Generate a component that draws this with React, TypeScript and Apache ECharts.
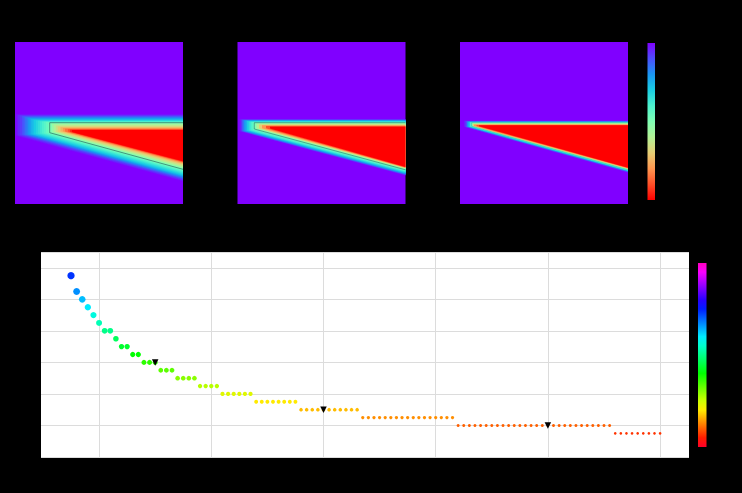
import React, { useEffect, useRef } from "react";
import * as echarts from "echarts";

// Scatter: one point per x, y in whole steps
const pointX = [15,16,17,18,19,20,21,22,23,24,25,26,27,28,29,30,31,32,33,34,35,36,37,38,39,40,41,42,43,44,45,46,47,48,49,50,51,52,53,54,55,56,57,58,59,60,61,62,63,64,65,66,67,68,69,70,71,72,73,74,75,76,77,78,79,80,81,82,83,84,85,86,87,88,89,90,91,92,93,94,95,96,97,98,99,100,101,102,103,104,105,106,107,108,109,110,111,112,113,114,115,116,117,118,119,120];
const pointY = [23,21,20,19,18,17,16,16,15,14,14,13,13,12,12,12,11,11,11,10,10,10,10,9,9,9,9,8,8,8,8,8,8,7,7,7,7,7,7,7,7,6,6,6,6,6,6,6,6,6,6,6,5,5,5,5,5,5,5,5,5,5,5,5,5,5,5,5,5,4,4,4,4,4,4,4,4,4,4,4,4,4,4,4,4,4,4,4,4,4,4,4,4,4,4,4,4,3,3,3,3,3,3,3,3,3];
const markedPoints = [[30, 12], [60, 6], [100, 4]];
const rowMarkerSize: Record<number, number> = {23:7.3,21:6.9,20:6.6,19:6.4,18:6.2,17:6,16:5.8,15:5.6,14:5.4,13:5.2,12:5,11:4.8,10:4.6,9:4.4,8:4.2,7:3.9,6:3.6,5:3.3,4:3,3:2.7};
const xTicks = [20, 40, 60, 80, 100, 120];

// Fields: iso-level contours of the three wedge panels (level, left x, top y, lower-left y, lower-right y)
const field1Levels = [0.01,0.03,0.05,0.075,0.1,0.125,0.15,0.175,0.2,0.225,0.25,0.275,0.3,0.325,0.35,0.375,0.4,0.425,0.45,0.475,0.5,0.55,0.6,0.65,0.7,0.75,0.8,0.85,0.9,0.95,1];
const field1Left = [0.5,1.5,3,5,7,8.5,10,11.5,13,14.5,16,17.5,19,21,23,25,27,29,31,33,34.7,37,39,41,43,45.5,48,50,53,55,57];
const field1Top = [72,72.5,73,73.5,74,74.5,75,75.5,76,76.5,77,77.5,78,78.4,78.8,79.15,79.5,79.8,80.1,80.4,80.7,81.6,82.5,83.5,84.5,85.2,86,86.7,87.3,87.7,88];
const field1LowLeft = [93.7,93.5,93.2,93,92.8,92.7,92.6,92.5,92.4,92.3,92.2,92.15,92.1,91.9,91.7,91.5,91.3,91.15,91,90.85,90.7,90.3,90,89.7,89.5,89.3,89.2,89.4,89.6,89.8,90];
const field1LowRight = [139.5,139,138.5,137.8,137,136.5,136,135.5,135,134.5,134,133.5,133,132.3,131.5,130.7,130,129.3,128.6,127.9,127.3,126.1,125,123.9,122.8,121.9,121,120.4,120,119.6,119.2];

const field2Levels = [0.03,0.1,0.15,0.2,0.25,0.3,0.35,0.4,0.45,0.5,0.6,0.7,0.8,0.9,1];
const field2Left = [2,4,5.2,6.5,8,9.5,11.2,13,15,16.8,19,21.5,24.5,28.5,32.5];
const field2Top = [77,77.5,77.9,78.3,78.6,79,79.4,79.8,80.2,80.7,81.6,82.5,83.2,84,84.7];
const field2LowLeft = [89.2,89.3,89.1,89,88.9,88.7,88.5,88.3,87.6,87,86.6,86.4,86.3,86.3,86.5];
const field2LowRight = [133.5,133,132.5,132,131.5,131,130.3,129.6,128.7,127.8,126.9,126.3,125.8,125.4,125];

const field3Levels = [0.03,0.1,0.2,0.3,0.4,0.5,0.6,0.7,0.8,0.9,1];
const field3Left = [4,5.5,7,8.5,10,11.7,12.5,13,14,16.5,19];
const field3Top = [78.6,79,79.4,79.8,80.2,80.7,81.3,81.9,82.4,82.9,83.3];
const field3LowLeft = [84.8,85,84.8,84.7,84.5,84.2,84.1,84,84,84,84.2];
const field3LowRight = [130.5,130.2,129.6,129,128.4,127.7,127.2,126.8,126.4,126.1,125.8];

const rainbowColors = ["#8000ff","#4c4ffc","#1a96f2","#1acee3","#4df2ce","#80ffb4","#b3f296","#e6ce74","#ff964f","#ff4f28","#ff0000"];
const gistRainbowColors = ["#ff0028","#ff1c00","#ff6000","#ffa500","#ffea00","#cfff00","#8aff00","#45ff00","#00ff00","#00ff45","#00ff89","#00ffcd","#00ecff","#00a6ff","#0061ff","#001cff","#2a00ff","#6f00ff","#b400ff","#f900ff","#ff00bf"];

const FIELD_W = 168;
const FIELD_H = 162;

const rows = (lv: number[], l: number[], t: number[], a: number[], b: number[]) =>
  lv.map((v, i) => [v, l[i], t[i], a[i], b[i]]);

const fields = [
  { left: 15, data: rows(field1Levels, field1Left, field1Top, field1LowLeft, field1LowRight), outline: 20, stroke: "rgba(30,80,85,0.75)" },
  { left: 237.5, data: rows(field2Levels, field2Left, field2Top, field2LowLeft, field2LowRight), outline: 9, stroke: "rgba(30,80,85,0.6)" },
  { left: 460, data: rows(field3Levels, field3Left, field3Top, field3LowLeft, field3LowRight), outline: 5, stroke: "rgba(30,80,85,0.25)" },
];

const contourPoints = (api: any) => {
  const xl = api.value(1), t = api.value(2), a = api.value(3), b = api.value(4);
  return [api.coord([xl, t]), api.coord([FIELD_W, t]), api.coord([FIELD_W, b]), api.coord([xl, a])];
};

const renderContour = (_: any, api: any) => ({
  type: "polygon",
  shape: { points: contourPoints(api) },
  style: { fill: api.visual("color") },
});

const renderOutline = (stroke: string) => (_: any, api: any) => ({
  type: "polyline",
  shape: { points: [api.coord([FIELD_W, api.value(2)]), api.coord([api.value(1), api.value(2)]), api.coord([api.value(1), api.value(3)]), api.coord([FIELD_W, api.value(4)])] },
  style: { fill: "none", stroke, lineWidth: 0.8 },
});

const barFill = (colors: string[]) =>
  new echarts.graphic.LinearGradient(0, 0, 0, 1, colors.map((color, i) => ({ offset: i / (colors.length - 1), color })));

export default function App() {
  const ref = useRef<HTMLDivElement>(null);
  useEffect(() => {
    document.documentElement.style.background = "#000";
    document.body.style.margin = "0";
    document.body.style.background = "#000";
    const chart = echarts.init(ref.current!, undefined, { renderer: "svg" });
    const hiddenAxis = { show: false };
    const option: any = {
      animation: false,
      backgroundColor: "#000",
      grid: [
        { left: 41, top: 252, width: 648, height: 205, show: true, backgroundColor: "#fff", borderColor: "#000", borderWidth: 0 },
        ...fields.map((f) => ({ left: f.left, top: 42, width: FIELD_W, height: FIELD_H, show: true, backgroundColor: "#8000ff", borderWidth: 0 })),
      ],
      xAxis: [
        {
          type: "value", gridIndex: 0, min: 9.65, max: 125.15,
          axisLine: { show: false },
          axisTick: { show: false, customValues: xTicks },
          axisLabel: { show: false, customValues: xTicks },
          splitLine: { show: true, lineStyle: { color: "#dcdcdc", width: 1 } },
        },
        ...fields.map((_, i) => ({ type: "value", gridIndex: i + 1, min: 0, max: FIELD_W, ...hiddenAxis })),
      ],
      yAxis: [
        {
          type: "value", gridIndex: 0, min: 0, max: 26, interval: 4,
          axisLine: { show: false }, axisTick: { show: false }, axisLabel: { show: false },
          splitLine: { show: true, lineStyle: { color: "#dcdcdc", width: 1 } },
        },
        ...fields.map((_, i) => ({ type: "value", gridIndex: i + 1, min: 0, max: FIELD_H, inverse: true, ...hiddenAxis })),
      ],
      visualMap: [
        { type: "continuous", show: false, seriesIndex: 0, dimension: 1, min: 1, max: 31, inRange: { color: gistRainbowColors } },
        { type: "continuous", show: false, seriesIndex: [2, 3, 4], dimension: 0, min: 0, max: 1, inRange: { color: rainbowColors } },
      ],
      graphic: [
        { type: "rect", left: 647.5, top: 43, shape: { width: 7.5, height: 157 }, style: { fill: barFill(rainbowColors) } },
        { type: "rect", left: 698, top: 263, shape: { width: 8.5, height: 184 }, style: { fill: barFill([...gistRainbowColors].reverse()) } },
      ],
      series: [
        {
          type: "scatter", xAxisIndex: 0, yAxisIndex: 0,
          data: pointX.map((x, i) => [x, pointY[i]]),
          symbolSize: (d: number[]) => rowMarkerSize[d[1]],
          itemStyle: { opacity: 1 },
          z: 3,
        },
        {
          type: "scatter", xAxisIndex: 0, yAxisIndex: 0, data: markedPoints,
          symbol: "triangle", symbolRotate: 180, symbolSize: 6.5,
          itemStyle: { color: "#000", opacity: 1 }, z: 4,
        },
        ...fields.map((f, i) => ({
          type: "custom", xAxisIndex: i + 1, yAxisIndex: i + 1, clip: true,
          data: f.data, renderItem: renderContour,
          encode: { x: 1, y: 2 },
        })),
        ...fields.map((f, i) => ({
          type: "custom", xAxisIndex: i + 1, yAxisIndex: i + 1, clip: true,
          data: [f.data[f.outline]], renderItem: renderOutline(f.stroke),
          encode: { x: 1, y: 2 },
        })),
      ],
    };
    chart.setOption(option);
    return () => chart.dispose();
  }, []);
  return <div ref={ref} style={{ position: "fixed", left: 0, top: 0, width: 742, height: 493 }} />;
}
